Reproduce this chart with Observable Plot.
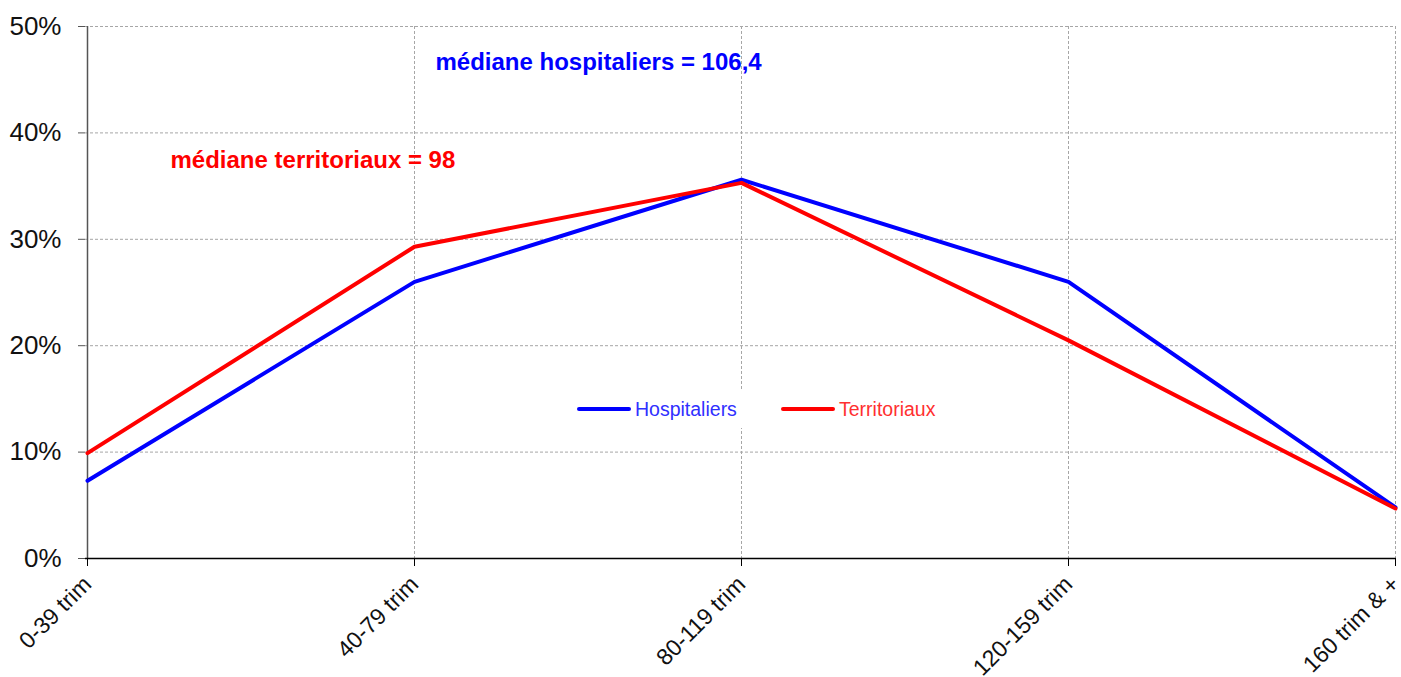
<!DOCTYPE html>
<html>
<head>
<meta charset="utf-8">
<script src="https://cdn.jsdelivr.net/npm/d3@7"></script>
<script src="https://cdn.jsdelivr.net/npm/@observablehq/plot@0.6"></script>
<style>
  html, body { margin: 0; padding: 0; background: #fff; }
  #wrap { position: relative; width: 1401px; height: 677px; font-family: "Liberation Sans", Arial, sans-serif; }
  #legend { position: absolute; left: 570px; top: 390px; width: 380px; height: 38px; background: #fff; }
  .item { position: absolute; top: 0; height: 38px; display: flex; align-items: center; font-size: 19.5px; }
  .sw { width: 54px; height: 4px; border-radius: 2px; margin-right: 4px; }
</style>
</head>
<body>
<div id="wrap"></div>
<script>
const categories = ["0-39 trim", "40-79 trim", "80-119 trim", "120-159 trim", "160 trim & +"];
const hospitaliers = [7.3, 26.0, 35.6, 26.0, 4.8];
const territoriaux = [9.9, 29.3, 35.3, 20.5, 4.7];
const seriesNames = ["Hospitaliers", "Territoriaux"];
const seriesColors = ["#0000ff", "#ff0000"];
const yTicks = [0, 10, 20, 30, 40, 50];
const annotHosp = {text: "médiane hospitaliers = 106,4", x: "40-79 trim", y: 46.6};
const annotTerr = {text: "médiane territoriaux = 98", x: "0-39 trim", y: 37.4};

const data = [];
categories.forEach((c, i) => data.push({cat: c, value: hospitaliers[i], series: seriesNames[0]}));
categories.forEach((c, i) => data.push({cat: c, value: territoriaux[i], series: seriesNames[1]}));

const annotStyle = {x: "x", y: "y", text: "text", textAnchor: "start", lineAnchor: "middle", fontSize: 24, fontWeight: "bold", style: {letterSpacing: "-0.6px"}};

const chart = Plot.plot({
  width: 1401,
  height: 677,
  marginLeft: 85,
  marginRight: 5,
  marginTop: 26,
  marginBottom: 119,
  style: {fontFamily: "'Liberation Sans', Arial, sans-serif", background: "#fff", overflow: "visible"},
  x: {type: "point", domain: categories, padding: 0},
  y: {domain: [0, 50]},
  color: {domain: seriesNames, range: seriesColors},
  marks: [
    Plot.gridY(yTicks.slice(1), {stroke: "#a6a6a6", strokeOpacity: 1, strokeDasharray: "3,2", strokeWidth: 1}),
    Plot.gridX(categories.slice(1), {stroke: "#a6a6a6", strokeOpacity: 1, strokeDasharray: "3,2", strokeWidth: 1}),
    Plot.axisY(yTicks, {tickSize: 7, tickPadding: 17, fontSize: 26, stroke: "#555", tickFormat: d => d + "%", fill: "#111"}),
    Plot.axisX(categories, {tickSize: 8, tickPadding: 14, fontSize: 23, tickRotate: -45, fill: "#111", stroke: "#000"}),
    Plot.ruleX([categories[0]], {stroke: "#555", strokeWidth: 1.5}),
    Plot.ruleY([0], {stroke: "#000", strokeWidth: 1.5}),
    Plot.line(data, {x: "cat", y: "value", z: "series", stroke: "series", strokeWidth: 4, strokeLinejoin: "round", strokeLinecap: "round"}),
    Plot.text([annotHosp], {...annotStyle, dx: 21, fill: seriesColors[0]}),
    Plot.text([annotTerr], {...annotStyle, dx: 83, fill: seriesColors[1]})
  ]
});

const wrap = document.getElementById("wrap");
wrap.appendChild(chart);

const legend = document.createElement("div");
legend.id = "legend";
seriesNames.forEach((n, i) => {
  const it = document.createElement("div");
  it.className = "item";
  it.style.left = (i === 0 ? 7 : 211) + "px";
  it.style.color = i === 0 ? "#3030ff" : "#ff3030";
  const sw = document.createElement("div");
  sw.className = "sw";
  sw.style.background = seriesColors[i];
  it.appendChild(sw);
  const t = document.createElement("span");
  t.textContent = n;
  it.appendChild(t);
  legend.appendChild(it);
});
wrap.appendChild(legend);
</script>
</body>
</html>
